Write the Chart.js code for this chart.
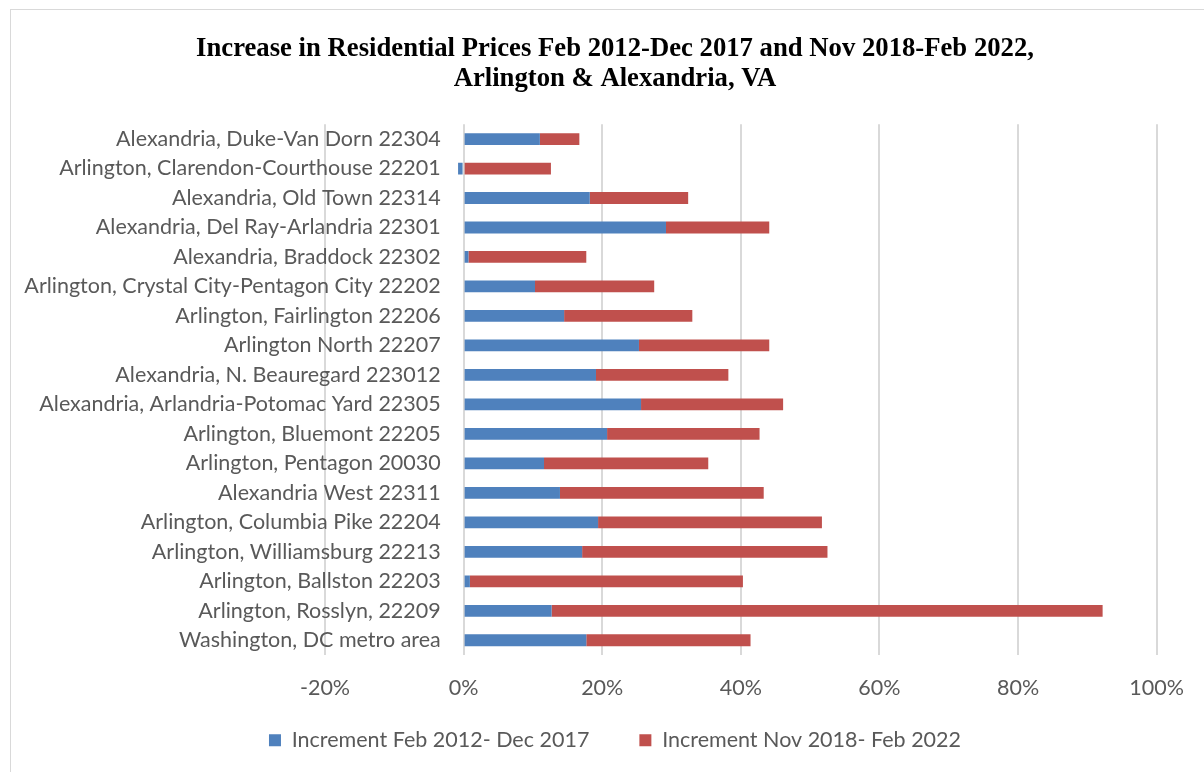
<!DOCTYPE html>
<html>
<head>
<meta charset="utf-8">
<script src="https://cdn.jsdelivr.net/npm/chart.js@4.4.1/dist/chart.umd.min.js"></script>
<style>
  html, body { margin: 0; padding: 0; background: #ffffff; }
  #wrap { position: relative; width: 1204px; height: 772px; overflow: hidden; }
  #frame { position: absolute; left: 10px; top: 9px; width: 1230px; height: 800px;
           border: 1px solid #d9d9d9; box-sizing: border-box; pointer-events: none; }
  canvas { position: absolute; left: 0; top: 0; }
</style>
</head>
<body>
<div id="wrap">
  <div id="frame"></div>
  <canvas id="chart" width="1204" height="772"></canvas>
</div>
<script>
// Neighbourhoods / ZIP areas, listed top to bottom
const categories = [
  'Alexandria, Duke-Van Dorn 22304',
  'Arlington, Clarendon-Courthouse 22201',
  'Alexandria, Old Town 22314',
  'Alexandria, Del Ray-Arlandria 22301',
  'Alexandria, Braddock 22302',
  'Arlington, Crystal City-Pentagon City 22202',
  'Arlington, Fairlington 22206',
  'Arlington North 22207',
  'Alexandria, N. Beauregard 223012',
  'Alexandria, Arlandria-Potomac Yard 22305',
  'Arlington, Bluemont 22205',
  'Arlington, Pentagon 20030',
  'Alexandria West 22311',
  'Arlington, Columbia Pike 22204',
  'Arlington, Williamsburg 22213',
  'Arlington, Ballston 22203',
  'Arlington, Rosslyn, 22209',
  'Washington, DC metro area'
];

// Price increase in percent, first period
const increment2012to2017 = [
  11.0, -0.8, 18.2, 29.2, 0.7, 10.3, 14.5, 25.3, 19.1,
  25.6, 20.7, 11.6, 13.9, 19.4, 17.1, 0.9, 12.7, 17.7
];

// Price increase in percent, second period
const increment2018to2022 = [
  5.7, 12.6, 14.2, 14.9, 17.0, 17.2, 18.5, 18.8, 19.1,
  20.5, 22.0, 23.7, 29.4, 32.3, 35.4, 39.4, 79.5, 23.7
];

const seriesNames = ['Increment Feb 2012- Dec 2017', 'Increment Nov 2018- Feb 2022'];
const titleLines = [
  'Increase in Residential Prices Feb 2012-Dec 2017 and Nov 2018-Feb 2022,',
  'Arlington & Alexandria, VA'
];
const axisMin = -20, axisMax = 100, axisStep = 20;

const labelFont = { family: 'Lato', size: 21.5 };
const textColor = '#595959';
const gridColor = '#d9d9d9';

// empty scale used only to reserve room in the layout
const spacer = (size, horizontal) => ({
  type: 'linear',
  axis: horizontal ? 'x' : 'y',
  position: horizontal ? 'bottom' : 'left',
  display: true,
  grid: { display: false, drawTicks: false },
  border: { display: false },
  ticks: { display: false },
  afterFit: s => { if (horizontal) s.height = size; else s.width = size; }
});

new Chart(document.getElementById('chart'), {
  type: 'bar',
  data: {
    labels: categories,
    datasets: [
      { label: seriesNames[0], data: increment2012to2017, backgroundColor: '#4f81bd',
        barPercentage: 0.4, categoryPercentage: 1.0 },
      { label: seriesNames[1], data: increment2018to2022, backgroundColor: '#c0504d',
        barPercentage: 0.4, categoryPercentage: 1.0 }
    ]
  },
  options: {
    indexAxis: 'y',
    responsive: false,
    animation: false,
    layout: { padding: { left: 71, right: 45, top: 10, bottom: 11 } },
    scales: {
      x: {
        stacked: true,
        position: { y: 17.5 },
        min: axisMin, max: axisMax,
        grid: { color: gridColor, lineWidth: 2, drawTicks: false },
        border: { display: false },
        ticks: {
          stepSize: axisStep,
          padding: 20,
          color: textColor,
          font: labelFont,
          callback: v => v + '%'
        }
      },
      y: {
        stacked: true,
        // category labels sit just left of the zero line
        position: { x: -3.3 },
        z: 1,
        grid: { display: false, drawTicks: false },
        border: { display: false },
        ticks: { padding: 0, color: textColor, font: labelFont, autoSkip: false }
      },
      padLeft: spacer(254, false),
      padBottom: spacer(24.5, true)
    },
    plugins: {
      title: {
        display: true,
        text: titleLines,
        color: '#000000',
        font: { family: 'Liberation Serif', size: 26.7, weight: 'bold', lineHeight: 30 / 26.7 },
        padding: { top: 24, bottom: 30.3 }
      },
      legend: {
        position: 'bottom',
        labels: {
          boxWidth: 12, boxHeight: 12,
          padding: 50,
          color: textColor,
          font: labelFont
        }
      },
      tooltip: { enabled: false }
    }
  }
});
</script>
</body>
</html>
